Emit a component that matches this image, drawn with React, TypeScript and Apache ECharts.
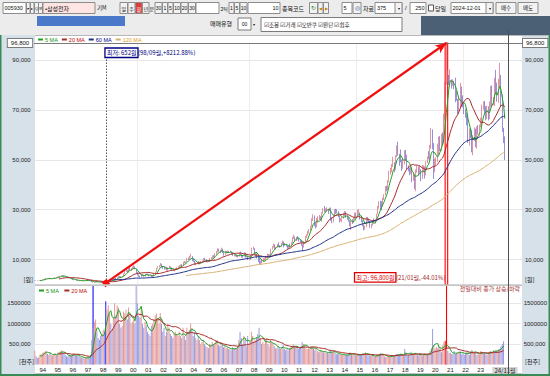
import { useEffect, useRef } from 'react';
import * as echarts from 'echarts';

const FIRST_YEAR = 1994;

// Monthly candles (split-adjusted won): [open, high, low, close], Jan 1994 .. Nov 2024
const monthlyOHLC: number[][] = [
  // 1994
  [1500,1680,1460,1640],[1640,1720,1540,1580],[1580,1620,1420,1460],[1460,1600,1440,1560],[1560,1780,1540,1740],[1740,1900,1680,1860],
  [1860,2080,1820,2040],[2040,2200,1960,2120],[2120,2440,2080,2380],[2380,2620,2300,2560],[2560,2640,2360,2420],[2420,2560,2300,2480],
  // 1995
  [2480,2520,2180,2260],[2260,2400,2160,2340],[2340,2560,2300,2500],[2500,2700,2420,2640],[2640,2900,2600,2860],[2860,3000,2700,2780],
  [2780,3200,2760,3120],[3120,3360,3000,3280],[3280,3560,3200,3460],[3460,3720,3300,3620],[3620,3800,3400,3500],[3500,3580,3120,3200],
  // 1996
  [3200,3360,2900,3000],[3000,3100,2700,2760],[2760,2900,2600,2680],[2680,2800,2480,2560],[2560,2660,2300,2360],[2360,2440,2100,2160],
  [2160,2240,1800,1880],[1880,2040,1760,1980],[1980,2100,1800,1860],[1860,1940,1600,1680],[1680,1780,1500,1560],[1560,1640,1380,1440],
  // 1997
  [1440,1700,1400,1640],[1640,1760,1560,1600],[1600,1660,1440,1480],[1480,1640,1460,1580],[1580,1760,1540,1700],[1700,1880,1660,1820],
  [1820,1900,1640,1680],[1680,1720,1440,1480],[1480,1560,1300,1340],[1340,1400,1000,1060],[1060,1120,800,880],[880,1040,760,960],
  // 1998
  [960,1440,940,1360],[1360,1420,1140,1200],[1200,1260,1040,1080],[1080,1120,880,920],[920,960,760,800],[800,860,700,740],
  [740,920,720,880],[880,900,700,720],[720,820,652,780],[780,1200,760,1160],[1160,1620,1140,1560],[1560,1880,1480,1760],
  // 1999
  [1760,1900,1540,1620],[1620,1720,1460,1560],[1560,2000,1540,1940],[1940,2560,1920,2480],[2480,2640,2200,2300],[2300,3000,2260,2940],
  [2940,3520,2860,3380],[3380,3460,2880,3020],[3020,3300,2780,2900],[2900,3400,2840,3300],[3300,4480,3240,4300],[4300,5480,4200,5340],
  // 2000
  [5340,6200,5000,5560],[5560,5800,4700,5000],[5000,6900,4900,6700],[6700,7100,5700,6000],[6000,6600,5500,6200],[6200,7200,6100,6980],
  [6980,7800,6700,7000],[7000,7300,6200,6300],[6300,6400,4300,4600],[4600,4900,3700,3900],[3900,4100,3140,3400],[3400,3600,2900,3040],
  // 2001
  [3040,4300,3000,4140],[4140,4300,3700,3820],[3820,3900,3200,3340],[3340,4300,3200,4160],[4160,4500,3900,4100],[4100,4400,3800,4000],
  [4000,4100,3300,3400],[3400,3900,3300,3780],[3780,3800,2800,2960],[2960,3700,2900,3560],[3560,4400,3500,4300],[4300,5200,4200,5060],
  // 2002
  [5060,6700,5000,6600],[6600,7400,6400,7120],[7120,7800,6900,7660],[7660,8650,7400,8200],[8200,8300,6700,7000],[7000,7400,6300,6500],
  [6500,7300,6000,6300],[6300,6900,6100,6800],[6800,7000,5600,5660],[5660,6900,5600,6800],[6800,7600,6600,7000],[7000,7200,6100,6340],
  // 2003
  [6340,6900,5900,6000],[6000,6200,5500,5600],[5600,5900,5300,5700],[5700,6600,5600,6480],[6480,7000,6300,6760],[6760,7400,6600,7000],
  [7000,7800,6700,7540],[7540,8100,7400,7900],[7900,8200,7200,7500],[7500,9200,7400,9000],[9000,9400,8600,8800],[8800,9200,8500,9020],
  // 2004
  [9020,10700,9000,10400],[10400,10800,9800,10300],[10300,11500,10000,11200],[11200,12400,10900,11300],[11300,11400,9400,10000],[10000,10400,9000,9200],
  [9200,9600,8100,8300],[8300,8900,7800,8600],[8600,9000,8200,8700],[8700,9300,8100,8200],[8200,9200,8100,9000],[9000,9400,8800,9000],
  // 2005
  [9000,9600,8800,9500],[9500,10600,9400,10400],[10400,10700,9700,9800],[9800,10200,8900,9100],[9100,9700,8900,9400],[9400,9700,9100,9200],
  [9200,10600,9100,10400],[10400,11000,10000,10500],[10500,11700,10400,11600],[11600,11800,10800,11000],[11000,12600,10900,12400],[12400,13400,12100,13180],
  // 2006
  [13180,14500,12900,14000],[14000,14400,13200,13300],[13300,13800,12600,13200],[13200,14800,13100,14100],[14100,14400,12600,12800],[12800,13000,11600,12100],
  [12100,13500,11900,13000],[13000,13400,12500,12700],[12700,13600,12600,13400],[13400,13500,12800,13000],[13000,13600,12900,13200],[13200,13300,12000,12260],
  // 2007
  [12260,12600,11500,11600],[11600,12200,11300,11800],[11800,12000,11300,11700],[11700,12000,11000,11200],[11200,11500,10900,11300],[11300,12800,11200,12400],
  [12400,13200,11900,12000],[12000,12200,10800,11400],[11400,11800,10800,11200],[11200,13000,11100,12600],[12600,12800,10800,11000],[11000,11600,10900,11120],
  // 2008
  [11120,11300,9900,10400],[10400,10900,10000,10600],[10600,11900,10000,11800],[11800,14800,11700,14300],[14300,15200,14000,14400],[14400,14600,11800,11900],
  [11900,13000,11200,12300],[12300,12500,10500,10800],[10800,11500,9000,10500],[10500,10700,8000,8700],[8700,9600,8000,9200],[9200,9900,8600,9020],
  // 2009
  [9020,10600,9000,9600],[9600,10600,9500,10100],[10100,11300,9900,10800],[10800,12400,10600,11800],[11800,12200,11200,11400],[11400,12200,11100,11600],
  [11600,14400,11400,14200],[14200,15400,14000,15000],[15000,16400,14800,15800],[15800,16100,14300,14500],[14500,15100,14000,14900],[14900,16300,14800,15980],
  // 2010
  [15980,16900,15000,15400],[15400,15800,14800,15200],[15200,16700,15100,16400],[16400,17600,16200,17200],[17200,17300,14900,15900],[15900,16600,15600,15800],
  [15800,16200,15200,15500],[15500,15700,14200,14600],[14600,15500,14400,15500],[15500,16400,14800,15300],[15300,17000,15200,16800],[16800,19000,16700,18980],
  // 2011
  [18980,20000,18300,19300],[19300,19300,17300,17800],[17800,19100,17400,18900],[18900,19500,18100,18600],[18600,18800,17200,17800],[17800,18200,16800,17400],
  [17400,17600,15600,16000],[16000,16200,13440,15000],[15000,17400,14800,16600],[16600,19400,16400,19000],[19000,20200,18600,20000],[20000,21500,19600,21160],
  // 2012
  [21160,22300,20500,22000],[22000,23600,21600,23400],[23400,26600,23200,25900],[25900,28200,25500,27400],[27400,27700,23400,24800],[24800,24900,22500,23700],
  [23700,26700,23000,25200],[25200,27400,24700,26200],[26200,27900,25800,27000],[27000,27400,25800,26600],[26600,29000,25200,28800],[28800,30600,28400,30360],
  // 2013
  [30360,31520,29000,29600],[29600,30600,29000,30200],[30200,31000,29400,30200],[30200,30400,28300,29800],[29800,30800,29400,30400],[30400,30900,25600,26200],
  [26200,26900,24600,25400],[25400,27900,24900,27500],[27500,30200,27300,29700],[29700,30400,28300,29300],[29300,30200,28600,29200],[29200,29400,27000,27440],
  // 2014
  [27440,27600,24900,25700],[25700,26600,25400,26200],[26200,27000,25000,26800],[26800,28800,26500,28200],[28200,29500,27500,29000],[29000,29300,26800,27000],
  [27000,27800,26000,26700],[26700,27000,25200,25300],[25300,25800,23400,23800],[23800,25700,21900,25100],[25100,26200,24300,25000],[25000,27000,24800,26540],
  // 2015
  [26540,28900,26000,28500],[28500,28800,27200,28200],[28200,30000,27500,28500],[28500,30200,28200,28700],[28700,28900,26000,26500],[26500,27500,25000,25200],
  [25200,25800,23400,24100],[24100,24200,21700,23200],[23200,23600,22000,23200],[23200,27100,23000,26800],[26800,27000,25300,26000],[26000,26400,24800,25200],
  // 2016
  [25200,25400,22800,23400],[23400,24400,22600,23800],[23800,25700,23600,25700],[25700,26500,24900,24900],[24900,26200,24500,25800],[25800,28400,25700,28400],
  [28400,31500,28200,30600],[30600,33400,30400,32200],[32200,33600,29800,32000],[32000,33400,29800,31800],[31800,34800,31300,34000],[34000,36200,33900,36040],
  // 2017
  [36040,39500,35700,39200],[39200,39600,37400,38000],[38000,41800,37900,41200],[41200,45600,41000,44400],[44400,46800,44100,45700],[45700,48300,45000,47600],
  [47600,51200,47100,48700],[48700,49000,45000,46200],[46200,51800,45900,51200],[51200,55800,51000,55100],[55100,57220,51600,51900],[51900,52400,47600,50960],
  // 2018
  [50960,54140,49000,49900],[49900,50100,45600,47000],[47000,50300,46400,49200],[49200,53900,48200,53000],[53000,53900,49550,51000],[51000,52000,46300,46650],
  [46650,47700,45400,46200],[46200,46900,43800,46100],[46100,47800,44300,46450],[46450,47050,41000,42400],[42400,44800,41600,43500],[43500,44000,38250,38700],
  // 2019
  [38700,46150,37450,46150],[46150,47500,44850,46750],[46750,47250,43650,44650],[44650,47800,44200,45850],[45850,46200,41450,42500],[42500,47900,42300,47000],
  [47000,47800,44950,47150],[47150,47250,42500,44000],[44000,49400,43800,49050],[49050,51300,48600,50400],[50400,53500,50200,50300],[50300,56000,49800,55800],
  // 2020
  [55800,62800,54500,56400],[56400,62200,54200,54200],[54200,56700,42300,47750],[47750,50500,45000,50000],[50000,51000,47800,50700],[50700,56500,49200,52800],
  [52800,59300,51900,57900],[57900,59500,53500,54000],[54000,60400,53600,58200],[58200,61000,56100,56600],[56600,68500,56600,66700],[66700,81300,66000,81000],
  // 2021
  [81000,96800,80200,82000],[82000,86000,80900,82500],[82500,84000,80000,81400],[81400,86200,80600,81500],[81500,82200,78500,80500],[80500,82200,79600,80700],
  [80700,81700,78300,79000],[79000,82900,73100,76700],[76700,77700,73700,74100],[74100,74400,68300,69500],[69500,75700,68800,71300],[71300,80800,71000,78300],
  // 2022
  [78300,79400,71300,73300],[73300,75800,71000,72100],[72100,73200,68300,69600],[69600,70500,66800,67400],[67400,68900,63800,66500],[66500,67500,56800,57000],
  [57000,62600,55700,61400],[61400,62500,58600,59400],[59400,61900,53000,53100],[53100,59900,51800,59400],[59400,63000,57500,62200],[62200,62500,55100,55300],
  // 2023
  [55500,63400,54500,61000],[61000,63900,60200,60600],[60600,64100,59600,64000],[64000,66900,63000,65500],[65500,72100,63900,71400],[71400,73400,70100,72200],
  [72200,73600,68400,69800],[69800,71500,65800,66900],[66900,71700,66300,68400],[68400,71400,65800,66900],[66900,73400,66300,72800],[72800,79600,71000,78500],
  // 2024
  [78200,79800,71200,72700],[72700,75200,71900,73400],[73400,82900,71500,82400],[82400,86000,76300,77500],[77500,80900,73300,73500],[73500,82500,72800,81500],
  [81500,88800,79700,83100],[83100,84000,71400,74400],[74400,76300,61200,61500],[61500,62800,56700,59200],[59200,59400,49900,54200],
];

// Monthly volume (천주), same months
const monthlyVolume: number[] = [
  340,200,160,180,230,250,280,300,320,340,260,230,
  280,240,220,250,270,230,290,300,320,350,300,260,
  240,200,190,210,230,220,260,250,220,230,210,200,
  180,170,160,150,170,180,160,170,240,600,900,1050,
  1100,800,650,600,700,750,850,800,1550,1350,1450,1250,
  1000,850,1150,1500,1200,1450,1400,1000,900,950,1300,1250,
  1350,1100,1400,1200,1000,1050,1100,1000,1930,1500,1200,1150,
  1350,1000,900,1050,950,800,750,700,950,1000,1100,1200,
  1250,1100,1000,1260,1000,800,900,700,800,1000,900,750,
  700,650,750,800,750,700,800,700,650,900,700,600,
  900,800,850,1000,850,700,800,650,600,700,600,500,
  550,600,500,450,420,400,500,480,550,500,520,580,
  600,480,450,500,480,420,450,400,420,380,380,350,
  420,400,380,400,450,600,800,650,500,700,600,450,
  700,500,550,800,700,550,600,650,750,900,650,500,
  550,500,600,650,500,450,600,550,500,450,400,400,
  450,400,380,420,480,380,350,380,350,400,420,450,
  500,450,420,400,380,400,450,550,500,480,400,380,
  400,380,420,450,400,350,380,330,300,320,350,300,
  320,280,300,280,270,350,320,300,320,280,250,260,
  260,240,250,240,230,220,240,230,250,300,260,240,
  250,230,220,240,230,240,260,280,260,300,240,220,
  240,220,210,200,190,210,230,240,260,280,250,230,
  200,180,190,210,200,190,220,210,220,250,260,240,
  250,260,230,240,380,280,220,240,230,310,280,260,
  280,230,240,220,280,250,220,240,230,260,240,270,
  340,400,870,480,390,430,400,430,420,300,470,550,
  580,390,330,280,290,260,250,330,260,290,280,320,
  320,250,270,230,290,300,300,230,330,360,300,280,
  300,230,280,240,330,310,270,280,260,240,300,320,
  330,290,350,320,350,340,370,380,450,500,570,
];

const yearLabels = ['94','95','96','97','98','99','00','01','02','03','04','05','06','07','08','09','10','11','12','13','14','15','16','17','18','19','20','21','22','23','24/11월'];
const priceLabelTicks = [10000, 30000, 50000, 70000, 90000];
const volumeLabelTicks = [500000, 1000000, 1500000];
const priceAxisMax = 96800;
const volumeAxisMax = 1924000;
const priceMAs = [5, 20, 60, 120];
const volumeMAs = [5, 20];
const PAD_SLOTS = 13;

const FONT = 'Liberation Sans';
const KFONT = '"Noto Sans CJK KR", sans-serif';

function movingAverage(arr: number[], n: number) {
  return arr.map((_, i) => {
    if (i < n - 1) return '-';
    let s = 0;
    for (let k = i - n + 1; k <= i; k++) s += arr[k];
    return Math.round(s / n);
  });
}
const fmt = (v: number) => v.toLocaleString('en-US');

function buildOption() {
  const n = monthlyOHLC.length;
  const cats: string[] = [];
  for (let i = 0; i < n; i++) {
    const y = FIRST_YEAR + Math.floor(i / 12);
    const m = (i % 12) + 1;
    cats.push(String(y).slice(2) + '/' + String(m).padStart(2, '0'));
  }
  for (let i = 0; i < PAD_SLOTS; i++) cats.push('pad' + i);

  const closes = monthlyOHLC.map((r) => r[3]);
  const candle = monthlyOHLC.map(([o, h, l, c]) => [o, c, l, h]);
  let idxLow = 0, idxHigh = 0;
  monthlyOHLC.forEach((r, i) => {
    if (r[2] < monthlyOHLC[idxLow][2]) idxLow = i;
    if (r[1] > monthlyOHLC[idxHigh][1]) idxHigh = i;
  });
  const lowVal = monthlyOHLC[idxLow][2];
  const highVal = monthlyOHLC[idxHigh][1];
  const last = closes[n - 1];
  const pctFromLow = ((last / lowVal - 1) * 100).toFixed(2);
  const pctFromHigh = ((last / highVal - 1) * 100).toFixed(2);
  const lowCat = cats[idxLow] + '월';
  const highCat = cats[idxHigh] + '월';

  const UP = '#d9657a';
  const DOWN = '#6a62c8';
  const volData = monthlyVolume.map((v, i) => {
    const [o, , , c] = monthlyOHLC[i];
    let color = c >= o ? '#e59a9a' : '#9a9ade';
    if (i === idxHigh) color = '#ff1010';
    if (i === idxLow) color = '#2020ff';
    return { value: v * 1000, itemStyle: { color } };
  });
  const volRaw = monthlyVolume.map((v) => v * 1000);

  const priceTicksAll: number[] = [];
  for (let v = 0; v <= priceAxisMax; v += 10000) priceTicksAll.push(v);
  priceTicksAll.push(priceAxisMax);
  const priceSplitColors = priceTicksAll.map((v) => (priceLabelTicks.includes(v) ? '#e6e6e6' : 'rgba(0,0,0,0)'));
  const volTicksAll: number[] = [];
  for (let v = 0; v <= volumeAxisMax; v += 500000) volTicksAll.push(v);
  volTicksAll.push(volumeAxisMax);
  const volSplitColors = volTicksAll.map((v) => (volumeLabelTicks.includes(v) ? '#e6e6e6' : 'rgba(0,0,0,0)'));

  const maColors = ['#22a022', '#a82828', '#1e2f88', '#d8b070'];
  const legendText = ['#109010', '#c00000', '#000080', '#e09a10'];

  const axisLabelBase = { fontSize: 6, fontFamily: FONT, color: '#222' };
  const priceYAxis = (pos: 'left' | 'right', split: boolean) => ({
    gridIndex: 0, type: 'value', position: pos, min: 0, max: priceAxisMax, interval: 10000,
    axisLine: { show: false }, axisTick: { show: false },
    axisLabel: { ...axisLabelBase, margin: pos === 'left' ? 3.5 : 3, formatter: (v: number) => (priceLabelTicks.includes(v) ? fmt(v) : '') },
    splitLine: { show: split, lineStyle: { color: priceSplitColors, width: 1 } },
  });
  const volYAxis = (pos: 'left' | 'right', split: boolean) => ({
    gridIndex: 1, type: 'value', position: pos, min: 0, max: volumeAxisMax, interval: 500000,
    axisLine: { show: false }, axisTick: { show: false },
    axisLabel: { ...axisLabelBase, margin: pos === 'left' ? 3.5 : 3, formatter: (v: number) => (v === 500000 ? '500,000' : volumeLabelTicks.includes(v) ? String(v) : '') },
    splitLine: { show: split, lineStyle: { color: volSplitColors, width: 1 } },
  });

  const boxLabel = { fontSize: 6, fontFamily: FONT, color: '#111', backgroundColor: '#fff', borderColor: '#7a7a7a', borderWidth: 1, padding: [1.5, 3, 0.5, 3] };

  // ---------- decorative chrome ----------
  const g: any[] = [];
  const rect = (x: number, y: number, w: number, h: number, fill: string, stroke?: string, z = -1) =>
    g.push({ type: 'rect', shape: { x, y, width: w, height: h }, style: { fill, stroke: stroke || null, lineWidth: 1 }, z, silent: true });
  const text = (x: number, y: number, t: string, o: any = {}, z = 50) =>
    g.push({ type: 'text', x, y, z, silent: true, style: { text: t, fontSize: o.size || 6, fontFamily: o.font || KFONT, fill: o.color || '#111', align: o.align || 'left', verticalAlign: 'middle', fontWeight: o.weight || 'normal' } });
  const line = (x1: number, y1: number, x2: number, y2: number, stroke: string, z = -1, w = 1) =>
    g.push({ type: 'line', shape: { x1, y1, x2, y2 }, style: { stroke, lineWidth: w }, z, silent: true });

  rect(0, 0, 550, 376, '#ececec', undefined, -3);
  // frame
  rect(0, 35, 35, 341, '#d7e1ea', undefined, -2);
  rect(522, 35, 28, 341, '#d7e1ea', undefined, -2);
  rect(35, 35, 487, 339, '#ffffff', undefined, -2);
  rect(0, 35, 1.5, 341, '#3a8a58', undefined, 40);
  rect(548.5, 35, 1.5, 341, '#3a8a58', undefined, 40);
  rect(0, 374, 550, 2, '#3a8a58', undefined, 40);
  line(35, 35.5, 548, 35.5, '#b8b8b8', -1);
  rect(35, 284.3, 487, 1.6, '#c6c6c6', undefined, 30);
  line(35, 374, 522, 374, '#888', 30);
  [137, 249, 356, 463].forEach((x) => line(x + 0.5, 43, x + 0.5, 365, '#ededed', -1));
  line(508.5, 30, 508.5, 374, '#505050', 35);
  text(33, 279.5, '[원]', { align: 'right' });
  text(525, 279.5, '[원]');
  text(34, 361, '[천주]', { align: 'right' });
  text(525, 361, '[천주]');
  text(520, 288.5, '전일대비 종가 상승/하락', { align: 'right', color: '#a83232' });

  // toolbar row 1
  const box = (x: number, w: number, fill = '#fff') => rect(x, 2.5, w, 11, fill, '#8c8c8c', 1);
  const btn = (x: number, w: number, t: string, o: any = {}) => {
    rect(x, 2.5, w, 11, o.bg || '#f2f2f2', '#8c8c8c', 1);
    text(x + w / 2, 8.2, t, { size: o.size || 5, align: 'center', color: o.color || '#111', font: o.font || FONT });
  };
  box(3, 23); text(4.5, 8.2, '005930', { size: 5.5, font: FONT });
  btn(26.5, 3.5, '▾', { size: 4 }); btn(30.5, 3.5, '▸', { size: 4 });
  btn(34.5, 4, 'Q', { size: 4 }); btn(38.5, 4, '연', { size: 3.5, font: KFONT });
  box(43, 52, '#ffe4e4'); text(45, 8.2, '•삼성전자', { size: 6 });
  text(97, 8.2, '기M', { size: 5.5 });
  btn(120, 7.5, '일', { size: 5, font: KFONT }); btn(128, 7, '주', { size: 5, font: KFONT });
  btn(135.5, 6.5, '월', { size: 5, font: KFONT, bg: '#e23a3a', color: '#fff' }); btn(142.5, 6.5, '년', { size: 5, font: KFONT });
  text(149.5, 8.2, '분', { size: 5 });
  btn(155, 7, '30'); btn(162.5, 5, '1'); btn(168, 5, '5'); btn(173.5, 7, '10'); btn(181, 7, '20'); btn(188.5, 7, '30');
  box(196, 23);
  text(220.5, 8.2, '2틱', { size: 5 });
  btn(229, 5, '1'); btn(234.5, 5, '5'); btn(240, 7, '10');
  box(248, 32); text(278.5, 8.2, '10', { size: 5.5, font: FONT, align: 'right' });
  text(282, 8.2, '종목코드', { size: 6 });
  btn(309.5, 8, '↻', { size: 6, color: '#2a8a2a' }); btn(318, 5, '◀', { size: 4, color: '#c08000' }); btn(323.5, 5, '▶', { size: 4, color: '#c08000' });
  box(342, 10); text(343.5, 8.2, '5', { size: 5.5, font: FONT });
  btn(353, 8, '◎', { size: 6, color: '#2050a0' });
  text(363, 8.2, '자료', { size: 6 });
  box(375, 27); text(377, 8.2, '375', { size: 5.5, font: FONT }); btn(395, 7, '▾', { size: 4 });
  text(405, 8.2, '/', { size: 6, font: FONT });
  box(410, 16); text(424.5, 8.2, '250', { size: 5.5, font: FONT, align: 'right' });
  rect(428.5, 5, 5, 6, '#fff', '#555', 1);
  text(435, 8.2, '당일', { size: 6 });
  box(451, 42); text(452.5, 8.2, '2024-12-01', { size: 5.5, font: FONT }); btn(486, 7, '▾', { size: 4 });
  btn(496, 20, '매수', { size: 5.5, font: KFONT }); btn(518, 20, '매도', { size: 5.5, font: KFONT });

  // toolbar row 2
  rect(37, 16, 88, 10, '#4a79c9', undefined, 1);
  text(210, 23, '매매유형', { size: 6 });
  rect(238, 18, 13, 12, '#fff', '#7a7a7a', 1); text(244.5, 24, '00', { size: 5, align: 'center', font: FONT });
  text(253, 24, '▾', { size: 4, font: FONT });
  rect(261, 17.5, 141, 14, '#fff', '#7a7a7a', 1);
  text(264, 24.5, '☑조봉 ☑거래 ☑오반쿠 ☑원단 ☑쉽후', { size: 5.5 });
  rect(421, 16, 129, 19, '#4b6074', undefined, 1);

  const series: any[] = [
    {
      name: 'price', type: 'candlestick', xAxisIndex: 0, yAxisIndex: 0, data: candle, barWidth: 0.8,
      itemStyle: { color: UP, color0: DOWN, borderColor: UP, borderColor0: DOWN, borderWidth: 0.7 },
      markArea: {
        silent: true,
        itemStyle: { color: 'rgba(255,255,255,0)', borderColor: '#ff0000', borderWidth: 1.1 },
        data: [[{ xAxis: idxHigh - 1 }, { xAxis: idxHigh + 1 }]],
      },
      markLine: {
        silent: true, symbol: 'none', animation: false,
        data: [
          { yAxis: priceAxisMax, lineStyle: { color: '#7a7a7a', width: 1, type: 'solid' }, label: { ...boxLabel, position: 'start', distance: 2, formatter: fmt(priceAxisMax) } },
          { yAxis: priceAxisMax, lineStyle: { color: '#7a7a7a', width: 1, type: 'solid' }, label: { ...boxLabel, position: 'end', distance: 1, formatter: fmt(priceAxisMax) } },
          { yAxis: last, lineStyle: { width: 0, opacity: 0 }, label: { position: 'end', distance: 1, formatter: fmt(last), fontSize: 6, fontFamily: FONT, color: '#fff', backgroundColor: '#1818c8', padding: [1.5, 1.5, 0.5, 1.5] } },
          [
            { coord: [idxLow, lowVal], lineStyle: { color: '#555', width: 1, type: [1.5, 1.5] }, label: { show: false } },
            { coord: [idxLow, 90400] },
          ],
          [
            { coord: [idxLow, lowVal], symbol: 'rect', symbolSize: 6, lineStyle: { color: '#f01010', width: 2.2, type: 'solid' }, label: { show: false }, itemStyle: { color: '#f01010' } },
            { coord: [idxHigh, highVal], symbol: 'arrow', symbolSize: [7, 11], itemStyle: { color: '#f01010' } },
          ],
        ],
      },
      markPoint: {
        silent: true, symbol: 'circle', symbolSize: 0, animation: false,
        data: [
          {
            coord: [idxLow, 92900],
            label: {
              show: true, position: 'right', distance: -1,
              formatter: `{b|최저: ${fmt(lowVal)}원}{t|(${lowCat},+${pctFromLow}%)}`,
              rich: {
                b: { fontSize: 6, fontFamily: KFONT, color: '#000080', borderColor: '#000080', borderWidth: 1.3, padding: [2, 1.5, 1.5, 2] },
                t: { fontSize: 6, fontFamily: KFONT, color: '#000080' },
              },
            },
          },
          {
            coord: [idxHigh, 2900],
            label: {
              show: true, position: 'left', distance: 1,
              formatter: `{b|최고: ${fmt(highVal)}원}{t|(${highCat},${pctFromHigh}%)}`,
              rich: {
                b: { fontSize: 6, fontFamily: KFONT, color: '#e00000', borderColor: '#e00000', borderWidth: 1.3, padding: [2, 1.5, 1.5, 2] },
                t: { fontSize: 6, fontFamily: KFONT, color: '#a02828' },
              },
            },
          },
        ],
      },
    },
    ...priceMAs.map((p, k) => ({
      name: `${p} MA`, type: 'line', xAxisIndex: 0, yAxisIndex: 0, data: movingAverage(closes, p),
      showSymbol: false, symbol: 'none', lineStyle: { width: 1, color: maColors[k] }, itemStyle: { color: maColors[k] }, z: 3,
    })),
    {
      name: 'volume', type: 'bar', xAxisIndex: 1, yAxisIndex: 2, data: volData, barWidth: 0.9,
      markArea: {
        silent: true,
        data: [
          [{ xAxis: idxHigh - 1, itemStyle: { color: 'rgba(255,255,255,0)', borderColor: '#ff0000', borderWidth: 1.1 } }, { xAxis: idxHigh + 1 }],
          [{ xAxis: idxLow - 1, itemStyle: { color: 'rgba(255,255,255,0)', borderColor: '#1010ff', borderWidth: 1.1 } }, { xAxis: idxLow + 1 }],
        ],
      },
    },
    ...volumeMAs.map((p, k) => ({
      name: `${p} MA `, type: 'line', xAxisIndex: 1, yAxisIndex: 2, data: movingAverage(volRaw, p),
      showSymbol: false, symbol: 'none', lineStyle: { width: 1, color: maColors[k] }, itemStyle: { color: maColors[k] }, z: 3,
    })),
    { name: 'yearAxis', type: 'line', xAxisIndex: 2, yAxisIndex: 4, data: [] },
  ];

  const legendBase = {
    icon: 'rect', itemWidth: 5, itemHeight: 2, itemGap: 4, padding: 0, selectedMode: false, orient: 'horizontal',
    textStyle: { fontSize: 5.5, fontFamily: FONT, padding: [0, 0, 0, -3] },
  };

  return {
    animation: false,
    backgroundColor: 'transparent',
    graphic: g,
    legend: [
      { ...legendBase, left: 38, top: 36.5, data: priceMAs.map((p, k) => ({ name: `${p} MA`, textStyle: { color: legendText[k] } })) },
      { ...legendBase, left: 39, top: 287.5, data: volumeMAs.map((p, k) => ({ name: `${p} MA `, textStyle: { color: legendText[k] } })) },
    ],
    grid: [
      { left: 34.165, right: 28, top: 43, height: 241.6 },
      { left: 34.165, right: 28, top: 286, height: 78.5 },
      { left: 37.9, width: 453, top: 365.5, height: 8.5 },
    ],
    xAxis: [
      { gridIndex: 0, type: 'category', data: cats, boundaryGap: true, show: false },
      { gridIndex: 1, type: 'category', data: cats, boundaryGap: true, show: false },
      {
        gridIndex: 2, type: 'category', data: yearLabels, boundaryGap: false, position: 'top',
        axisLine: { show: true, lineStyle: { color: '#666', width: 1 } },
        axisTick: { show: true, inside: true, length: 8.5, interval: 0, lineStyle: { color: '#666' } },
        axisLabel: {
          inside: true, interval: 0, align: 'left', verticalAlign: 'top', margin: 1.5, padding: [0, 0, 0, 1.5],
          fontSize: 6, fontFamily: FONT, color: '#222', hideOverlap: false,
          formatter: (v: string) => (v.includes('월') ? `{last|${v}}` : v),
          rich: { last: { fontSize: 6, fontFamily: KFONT, color: '#222', backgroundColor: '#d4d4d4', padding: [0, 2, 0, 2] } },
        },
        splitLine: { show: false },
      },
    ],
    yAxis: [
      priceYAxis('left', true),
      priceYAxis('right', false),
      volYAxis('left', true),
      volYAxis('right', false),
      { gridIndex: 2, type: 'value', show: false, min: 0, max: 1 },
    ],
    series,
  };
}

export default function App() {
  const ref = useRef<HTMLDivElement>(null);
  useEffect(() => {
    document.body.style.margin = '0';
    const chart = echarts.init(ref.current!, undefined, { renderer: 'svg' });
    chart.setOption(buildOption() as any);
    return () => chart.dispose();
  }, []);
  return <div ref={ref} style={{ position: 'absolute', left: 0, top: 0, width: 550, height: 376 }} />;
}
